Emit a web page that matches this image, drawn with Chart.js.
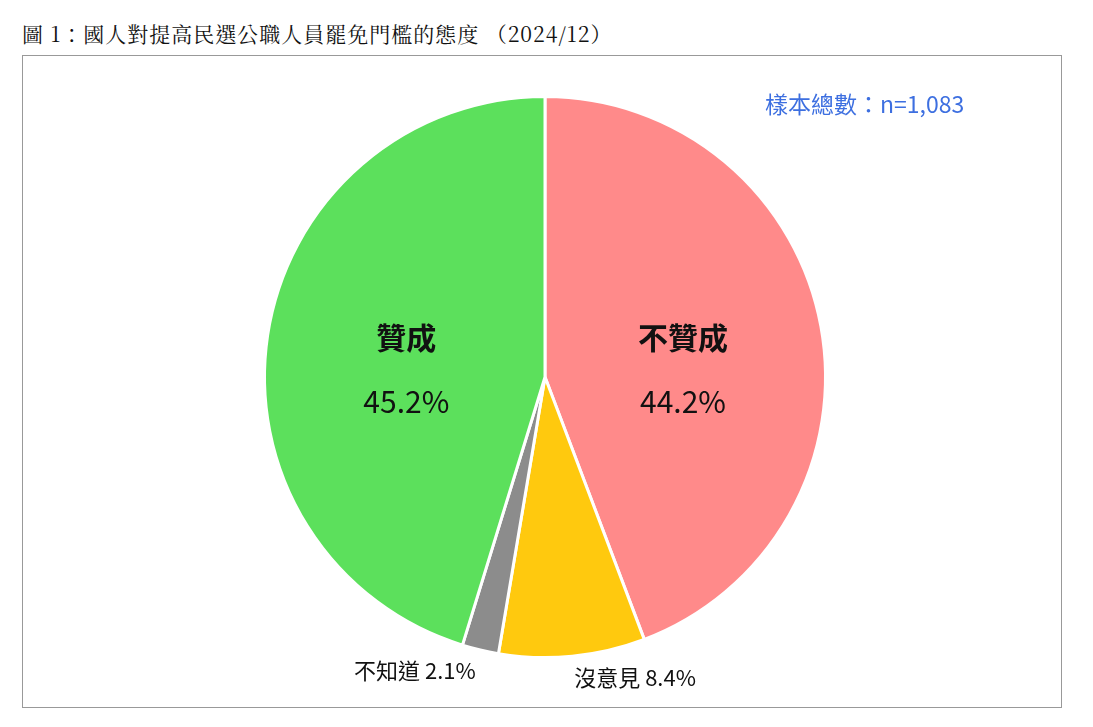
<!DOCTYPE html>
<html><head><meta charset="utf-8">
<script src="https://cdn.jsdelivr.net/npm/chart.js@4"></script>
<style>
body{margin:0;background:#fff;width:1093px;height:727px;position:relative;font-family:"Noto Sans CJK TC";}
#title{position:absolute;left:22px;top:18px;font-size:21px;color:#111;font-family:"Noto Serif CJK TC","Noto Sans CJK TC";letter-spacing:1px;}
#box{position:absolute;left:22px;top:55px;width:1038px;height:651px;border:1px solid #999;}
#n{position:absolute;left:765px;top:86px;font-size:23px;color:#3D6FE0;}
</style></head><body>
<div id="title">圖 1：國人對提高民選公職人員罷免門檻的態度 （2024/12）</div>
<div id="box"><canvas id="c" width="1038" height="651"></canvas></div>
<div id="n">樣本總數：n=1,083</div>
<script>
const categories=["不贊成","沒意見","不知道","贊成"];
const values=[44.2,8.4,2.1,45.2];
const colors=["#FF8A8A","#FFC90E","#8C8C8C","#5CE05C"];
const inside=[true,false,false,true];
const labelPlugin={id:"lbl",afterDatasetsDraw(chart){
 const ctx=chart.ctx;const meta=chart.getDatasetMeta(0);
 meta.data.forEach((arc,i)=>{
  const a=(arc.startAngle+arc.endAngle)/2;const r=arc.outerRadius;
  ctx.save();ctx.fillStyle="#111";ctx.textBaseline="middle";
  if(inside[i]){
   const x=arc.x+Math.cos(a)*r*0.5, y=arc.y-7;
   ctx.textAlign="center";
   ctx.font="bold 30px 'Noto Sans CJK TC'";ctx.fillText(categories[i],x,y-32);
   ctx.font="30px 'Noto Sans CJK TC'";ctx.fillText(values[i].toFixed(1)+"%",x,y+32);
  }else{
   const x=arc.x+Math.cos(a)*r*1.07, y=arc.y+Math.sin(a)*r*1.07;
   ctx.textAlign=Math.cos(a)>=0?"left":"right";
   ctx.font="22px 'Noto Sans CJK TC'";ctx.fillText(categories[i]+" "+values[i].toFixed(1)+"%",x,y+2);
  }
  ctx.restore();
 });
}};
new Chart(document.getElementById("c"),{type:"pie",
 data:{labels:categories,datasets:[{data:values,backgroundColor:colors,borderColor:"#fff",borderWidth:3}]},
 options:{responsive:false,animation:false,layout:{padding:{top:39,bottom:48,left:6,right:0}},
  plugins:{legend:{display:false},tooltip:{enabled:false}}},
 plugins:[labelPlugin]});
</script></body></html>
